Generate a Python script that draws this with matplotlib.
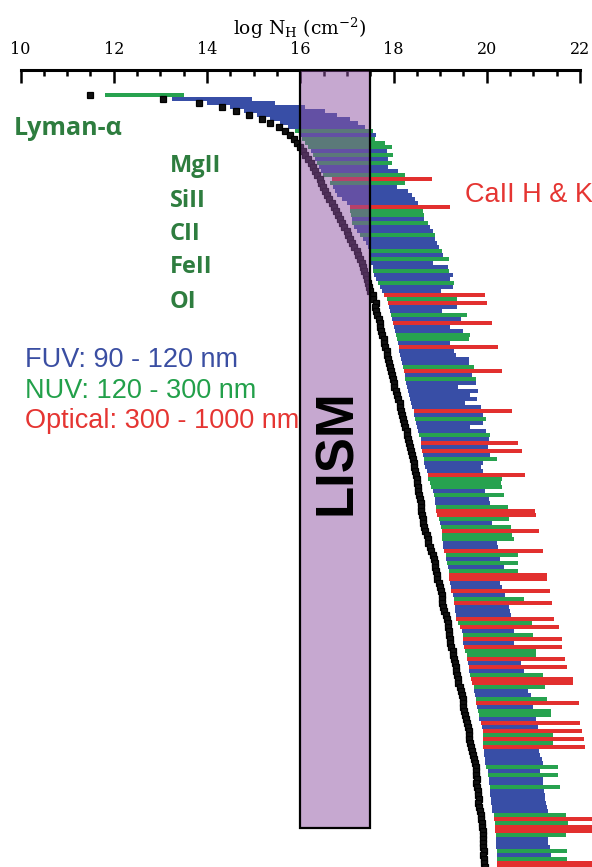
import numpy as np
import matplotlib
matplotlib.use("Agg")
import matplotlib.pyplot as plt
import matplotlib.transforms as mtransforms
from matplotlib.patches import Rectangle
from matplotlib.ticker import MultipleLocator

plt.rcParams['mathtext.fontset'] = 'dejavuserif'
plt.rcParams['font.family'] = ['DejaVu Serif']

# log N_H toward each sight line (black points), top to bottom
nh = [
    11.49, 13.06, 13.83, 14.33, 14.63, 14.91, 15.18, 15.36, 15.55, 15.68,
    15.79, 15.87, 15.94, 16.00, 16.06, 16.11, 16.17, 16.24, 16.28, 16.32,
    16.36, 16.43, 16.45, 16.49, 16.54, 16.58, 16.62, 16.69, 16.73, 16.77,
    16.82, 16.86, 16.90, 16.94, 17.01, 17.03, 17.07, 17.12, 17.16, 17.22,
    17.24, 17.29, 17.33, 17.35, 17.37, 17.42, 17.44, 17.46, 17.48, 17.50,
    17.55, 17.57, 17.62, 17.61, 17.63, 17.65, 17.69, 17.70, 17.72, 17.74,
    17.76, 17.79, 17.80, 17.82, 17.85, 17.87, 17.88, 17.91, 17.93, 17.95,
    17.97, 17.99, 18.02, 18.01, 18.06, 18.08, 18.10, 18.13, 18.15, 18.17,
    18.19, 18.21, 18.23, 18.25, 18.28, 18.30, 18.32, 18.34, 18.36, 18.38,
    18.40, 18.41, 18.43, 18.45, 18.47, 18.49, 18.50, 18.51, 18.52, 18.53,
    18.55, 18.56, 18.58, 18.58, 18.60, 18.62, 18.63, 18.64, 18.66, 18.68,
    18.71, 18.73, 18.75, 18.79, 18.81, 18.84, 18.86, 18.88, 18.90, 18.92,
    18.93, 18.94, 18.97, 18.99, 19.01, 19.03, 19.04, 19.05, 19.07, 19.09,
    19.12, 19.14, 19.16, 19.17, 19.18, 19.20, 19.21, 19.22, 19.24, 19.27,
    19.27, 19.29, 19.31, 19.33, 19.35, 19.37, 19.38, 19.39, 19.42, 19.44,
    19.46, 19.48, 19.49, 19.50, 19.52, 19.54, 19.55, 19.57, 19.59, 19.61,
    19.62, 19.63, 19.65, 19.67, 19.69, 19.70, 19.72, 19.74, 19.76, 19.76,
    19.78, 19.79, 19.78, 19.80, 19.81, 19.82, 19.83, 19.82, 19.84, 19.85,
    19.87, 19.87, 19.89, 19.90, 19.91, 19.91, 19.92, 19.93, 19.93, 19.94,
    19.93, 19.95, 19.95, 19.96,
]

# left end of each detection bar (log N_H)
bar_lo = [
    11.82, 13.25, 14.00, 14.50, 14.80, 15.08, 15.36, 15.57, 15.74, 15.89,
    16.00, 16.04, 16.11, 16.17, 16.24, 16.28, 16.32, 16.36, 16.41, 16.45,
    16.49, 16.68, 16.64, 16.71, 16.75, 16.79, 16.90, 17.01, 17.07, 17.07,
    17.09, 17.12, 17.12, 17.16, 17.22, 17.29, 17.35, 17.42, 17.46, 17.48,
    17.50, 17.52, 17.52, 17.55, 17.57, 17.59, 17.63, 17.67, 17.72, 17.76,
    17.80, 17.85, 17.89, 17.91, 17.93, 17.95, 17.97, 17.99, 18.02, 18.04,
    18.06, 18.08, 18.10, 18.12, 18.12, 18.15, 18.17, 18.19, 18.21, 18.23,
    18.25, 18.25, 18.27, 18.30, 18.32, 18.34, 18.36, 18.38, 18.40, 18.43,
    18.45, 18.47, 18.49, 18.51, 18.53, 18.55, 18.58, 18.60, 18.60, 18.62,
    18.64, 18.66, 18.66, 18.68, 18.71, 18.73, 18.75, 18.79, 18.81, 18.84,
    18.86, 18.88, 18.90, 18.92, 18.92, 18.94, 18.97, 18.99, 19.01, 19.03,
    19.03, 19.05, 19.07, 19.07, 19.09, 19.12, 19.12, 19.14, 19.16, 19.18,
    19.20, 19.20, 19.22, 19.24, 19.24, 19.27, 19.29, 19.29, 19.31, 19.31,
    19.33, 19.35, 19.39, 19.42, 19.46, 19.48, 19.50, 19.50, 19.52, 19.54,
    19.57, 19.57, 19.59, 19.61, 19.63, 19.65, 19.67, 19.69, 19.72, 19.72,
    19.74, 19.76, 19.78, 19.80, 19.82, 19.84, 19.84, 19.87, 19.89, 19.91,
    19.91, 19.93, 19.93, 19.93, 19.95, 19.95, 19.97, 19.97, 19.99, 20.02,
    20.02, 20.04, 20.04, 20.06, 20.08, 20.08, 20.10, 20.10, 20.12, 20.12,
    20.15, 20.15, 20.17, 20.17, 20.17, 20.19, 20.19, 20.19, 20.19, 20.21,
    20.21, 20.21, 20.23, 20.23,
]

# right end of each detection bar (log N_H)
bar_hi = [
    13.50, 14.97, 15.46, 16.11, 16.54, 16.79, 17.07, 17.24, 17.39, 17.57,
    17.63, 17.61, 17.82, 17.97, 17.87, 17.99, 17.89, 17.97, 17.89, 18.10,
    18.25, 18.83, 18.25, 18.08, 18.32, 18.40, 18.47, 18.53, 19.22, 18.64,
    18.66, 18.66, 18.73, 18.79, 18.84, 18.88, 18.90, 18.94, 18.97, 19.05,
    19.07, 19.20, 18.84, 19.16, 19.18, 19.27, 19.22, 19.29, 19.27, 19.01,
    19.96, 19.37, 20.01, 19.37, 19.05, 19.57, 19.44, 20.12, 19.22, 19.50,
    19.65, 19.63, 19.22, 20.25, 19.29, 19.33, 19.61, 19.61, 19.73, 20.33,
    19.69, 19.78, 19.76, 19.39, 19.82, 19.65, 19.80, 19.54, 19.87, 20.55,
    19.93, 19.99, 19.93, 19.65, 19.99, 20.06, 20.04, 20.68, 20.02, 20.75,
    20.08, 20.21, 19.91, 19.87, 19.93, 20.83, 20.32, 20.30, 20.32, 19.97,
    20.36, 20.04, 20.08, 20.45, 21.04, 21.06, 20.47, 20.12, 20.51, 21.12,
    20.55, 20.58, 20.23, 20.25, 21.21, 20.66, 20.29, 20.66, 20.36, 20.68,
    21.30, 21.30, 20.29, 20.32, 21.36, 20.40, 20.79, 21.39, 20.47, 20.49,
    20.51, 21.45, 20.98, 21.56, 20.58, 21.00, 21.62, 20.58, 21.62, 21.05,
    21.05, 21.67, 20.73, 21.73, 20.79, 21.21, 21.84, 21.86, 21.26, 20.88,
    20.94, 21.30, 21.97, 21.00, 21.37, 21.37, 21.05, 22.01, 21.09, 22.04,
    21.43, 22.08, 21.43, 22.10, 21.11, 21.15, 21.18, 21.20, 21.53, 21.15,
    21.53, 21.20, 21.20, 21.58, 21.22, 21.24, 21.26, 21.28, 21.30, 21.32,
    21.69, 22.33, 21.75, 22.33, 22.33, 21.71, 21.32, 21.32, 21.35, 21.73,
    21.37, 21.73, 22.33, 22.33,
]

# wavelength band of the line used for each sight line
# B = FUV, G = NUV, R = optical
band = list(
    "GBBBBBBBBG" "BGGGBGBGBB" "GRGBBBBBRG" "GBGBBGBBBG" "BGBBGBBGBB"
    "RGRBBGBRBB" "GGBRBBBBGR" "BGBBBBBBBR" "BGBBBGBRBR" "BGBBBRGGGB"
    "GBBGRRGBGR" "GGBBRGBGBG" "RRBBRBGRBB" "BRGRBGRBRG" "GRBRBGRRGB"
    "BGRBGGBRBR" "GRGRBBBBGB" "GBBGBBBBBB" "GRGRRGBBBG" "BGRR"
)

lism_range = (16.0, 17.5)
ions = ["MgII", "SiII", "CII", "FeII", "OI"]
band_labels = ["FUV: 90 - 120 nm", "NUV: 120 - 300 nm", "Optical: 300 - 1000 nm"]

band_colors = {"B": "#384ea6", "G": "#27a24f", "R": "#e2302f"}
label_colors = ["#3a4ea2", "#22a04a", "#e53532"]
ion_green = "#2e7d3f"

W, H = 592, 867
fig = plt.figure(figsize=(W / 100, H / 100), dpi=100)
ax_top_px = 69.5
ax = fig.add_axes([20.5 / W, 0.0, (580 - 20.5) / W, 1 - ax_top_px / H])

nh_a = np.array(nh)
lo_a = np.array(bar_lo)
hi_a = np.array(bar_hi)
rows = np.arange(len(nh_a))

ax.barh(rows, hi_a - lo_a, left=lo_a, height=1.06,
        color=[band_colors[b] for b in band], linewidth=0,
        zorder=2, clip_on=False)
ax.plot(nh_a, rows, "s", ms=3.9, color="#111111", mec="black", mew=0.9,
        zorder=3, clip_on=False)

ax.set_xlim(10, 22)
row_px = 4.0
ax.set_ylim(len(rows) - 1, -(95 - ax_top_px) / row_px)

# LISM band: translucent fill over the bars plus a black outline
blend = mtransforms.blended_transform_factory(ax.transData, ax.transAxes)
lism_bottom = (H - 828) / (H - ax_top_px)
ax.add_patch(Rectangle((lism_range[0], lism_bottom), lism_range[1] - lism_range[0],
                       1 - lism_bottom, transform=blend, facecolor="#8f52a3",
                       alpha=0.5, linewidth=0, zorder=4))
ax.add_patch(Rectangle((lism_range[0], lism_bottom), lism_range[1] - lism_range[0],
                       1 - lism_bottom, transform=blend, fill=False,
                       edgecolor="black", linewidth=1.6, zorder=5))
ax.text(16.79, (H - 452) / (H - ax_top_px), "LISM", transform=blend,
        rotation=90, ha="center", va="center", fontsize=38,
        fontweight="bold", family="Liberation Sans", color="black", zorder=6)

# top axis only
for s in ["left", "right", "bottom"]:
    ax.spines[s].set_visible(False)
ax.spines["top"].set_linewidth(2.2)
ax.xaxis.tick_top()
ax.set_xticks(np.arange(10, 23, 2))
ax.xaxis.set_minor_locator(MultipleLocator(0.5))
ax.tick_params(axis="x", which="major", direction="in", length=9.5, width=1.8,
               pad=8.5, labelsize=11.5)
ax.tick_params(axis="x", which="minor", direction="in", length=4.5, width=1.8)
ax.tick_params(axis="y", left=False, labelleft=False)

fig.text(300 / W, 1 - 35 / H, r"log N$_{\rm H}$ (cm$^{-2}$)", ha="center",
         va="baseline", fontsize=13.5)

# line labels
fig.text(14 / W, 1 - 135 / H, "Lyman-α", color=ion_green, fontsize=18,
         fontweight="bold", family=["Open Sans", "DejaVu Sans"], va="baseline")
for name, base in zip(ions, [172, 207, 240, 273, 308]):
    fig.text(170 / W, 1 - base / H, name, color=ion_green, fontsize=17,
             fontweight="bold", family="Open Sans", va="baseline")

for txt, col, base in zip(band_labels, label_colors, [367, 398, 428]):
    fig.text(25 / W, 1 - base / H, txt, color=col, fontsize=19.5,
             family="Liberation Sans", va="baseline")

fig.text(465 / W, 1 - 202 / H, "CaII H & K", color=label_colors[2],
         fontsize=19.5, family="Liberation Sans", va="baseline")

fig.savefig("out.png", dpi=100)
